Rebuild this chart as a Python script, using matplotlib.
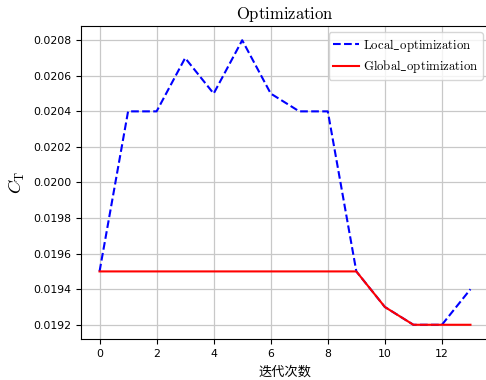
import matplotlib
matplotlib.use("Agg")
import matplotlib.pyplot as plt

plt.rcParams['font.family'] = ['DejaVu Sans', 'Noto Sans CJK SC']
plt.rcParams['mathtext.fontset'] = 'cm'

iterations = list(range(14))
local_opt = [0.0195, 0.0204, 0.0204, 0.0207, 0.0205, 0.0208, 0.0205,
             0.0204, 0.0204, 0.0195, 0.0193, 0.0192, 0.0192, 0.0194]
global_opt = [0.0195, 0.0195, 0.0195, 0.0195, 0.0195, 0.0195, 0.0195,
              0.0195, 0.0195, 0.0195, 0.0193, 0.0192, 0.0192, 0.0192]

fig = plt.figure(figsize=(4.86, 3.8), dpi=100)
ax = fig.add_axes([81 / 486, 1 - 339 / 380, 408 / 486, 313 / 380])

ax.plot(iterations, local_opt, 'b--', linewidth=1.5, label=r'$\mathrm{Local\_optimization}$')
ax.plot(iterations, global_opt, 'r-', linewidth=1.5, label=r'$\mathrm{Global\_optimization}$')

ax.set_title(r'$\mathrm{Optimization}$', fontsize=12, pad=5)
ax.set_xlabel('迭代次数', fontsize=9.5, family=['Noto Sans CJK SC', 'DejaVu Sans'], labelpad=5)
ax.set_ylabel(r'$C_\mathrm{T}$', fontsize=13)
ax.tick_params(labelsize=7.8)
ax.set_xticks([0, 2, 4, 6, 8, 10, 12])
ax.grid(True, color='#c8c8c8', linewidth=0.9)
ax.legend(fontsize=9.2, loc='upper right',
          handlelength=2.0, borderpad=0.35, labelspacing=0.35, handletextpad=0.3)

fig.savefig('out.png', dpi=100)
